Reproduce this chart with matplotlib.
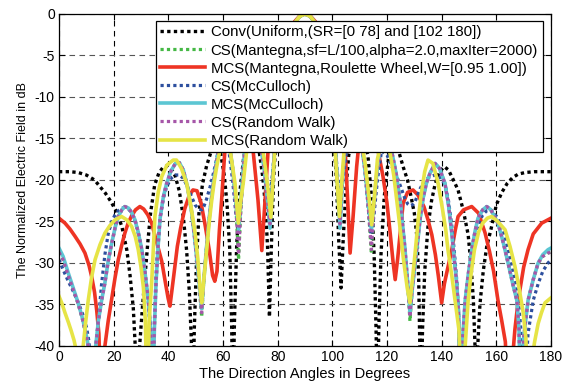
import matplotlib
matplotlib.use("Agg")
import matplotlib.pyplot as plt

plt.rcParams['font.family'] = ['Liberation Sans', 'DejaVu Sans']
plt.rcParams['axes.unicode_minus'] = False

# ---------------- data (degrees, dB) ----------------
conv_ang = [0, 4, 7, 10, 13, 15, 17, 19, 21, 23, 24.8, 26, 27.2, 28.2, 28.8, 29.5, 30.5, 31.5, 32.5,
            33.5, 35, 36.5, 38, 39.5, 41, 42.5, 44, 45.5, 46.7, 47.7, 48.5, 49, 49.5, 50.3, 51.2,
            52.5, 54, 56, 57.5, 59, 60.5, 61.5, 62.5, 63.2, 63.6, 64.2, 65, 66, 67.5, 70, 73, 74.5,
            75.5, 76.3, 77, 77.7, 78.5, 80, 82, 84, 86, 88, 90,
            92, 94, 96, 98, 100, 101.5, 102.3, 103.2, 104, 105, 106, 110, 113, 114.3, 115.3, 116,
            116.5, 117, 117.8, 119, 120.5, 122.5, 124.5, 126, 127.5, 128.8, 130, 131, 131.6, 132,
            132.4, 133, 133.8, 135, 136.3, 137.6, 139.2, 141, 142.5, 144, 146, 148, 149.7, 150.8,
            151.6, 152.2, 152.6, 153.2, 154, 155.2, 156.5, 158, 160, 162, 164, 166, 168, 170.5,
            174, 177, 180]
conv_db = [-19.0, -19.0, -19.1, -19.4, -20.0, -20.8, -21.6, -22.6, -23.8, -25.6, -28.4, -31.5, -35.5,
           -42, -48, -40, -35.5, -31.5, -27.5, -24, -20.6, -19.2, -18.5, -18.3, -18.6, -19.5, -21.3,
           -24.5, -28.5, -33.5, -40, -48, -38, -30, -24, -20.5, -18.3, -16.2, -15.5, -16.5, -19.5,
           -23, -28.5, -38, -48, -37, -28, -22, -17.5, -13, -16, -19.5, -23, -28, -36.5, -28, -20,
           -12, -7, -3.6, -1.3, -0.3, 0,
           -0.3, -1.3, -3.6, -7, -12, -20, -27, -33, -27, -21, -17, -13, -17, -22, -29, -38,
           -48, -38, -29, -22, -17.5, -15.5, -16.8, -18.5, -20, -22, -24, -27, -32, -40,
           -48, -38, -31, -25.6, -22.5, -20.5, -19, -18.4, -18.8, -19.8, -21.2, -23.8, -26.6, -30.5,
           -34.5, -40, -48, -40, -35, -31, -28, -26, -23, -21.5, -20.4, -19.7, -19.3, -19.1,
           -19.0, -19.0, -19.0]

mcs_man_ang = [0, 2.2, 4, 5.9, 7.7, 9.5, 11, 12, 13, 13.8, 14.6, 15.5, 16.2, 16.8, 18, 19.3, 20.5,
               21.7, 23, 24.1, 25.3, 26.6, 28, 29.6, 31, 32.5, 33.9, 35.5, 37.6, 39, 39.9, 40.6,
               42, 43.3, 44.5, 46, 47.5, 49, 50.5, 52, 53.5, 55, 56.2, 57, 57.8, 58.7, 59.5, 60.7,
               62.5, 65.5, 68.5, 71, 72.8, 74.2, 75.4, 76.5, 78, 80, 83, 86, 88, 90,
               92, 94, 97, 100, 102.5, 104.7, 105.6, 106.5, 107.6, 108.9, 110.5, 113.5, 116.7,
               118.5, 120, 121.2, 122.2, 123, 123.9, 124.8, 125.9, 127.5, 129.5, 131.3, 133.5,
               135, 136.4, 137.7, 138.8, 140, 141, 142.3, 143.7, 145, 146, 148, 151, 153.5, 155.9,
               157.5, 159, 160.6, 162, 163.3, 164.5, 165.8, 166.8, 168, 170, 171.6, 173.5, 176.6, 180]
mcs_man_db = [-24.6, -25.2, -25.9, -26.8, -27.7, -28.8, -30.3, -31.7, -33.5, -35.7, -38.5, -48, -42,
              -40, -37, -34.3, -31.8, -29.6, -27.8, -26.4, -25.2, -24.3, -23.6, -23.2, -23.5, -24.2,
              -25.2, -27.2, -29.8, -32.5, -34.2, -35.2, -31.5, -28, -25.8, -23.5, -22, -21.2, -21.3,
              -22.8, -25.5, -28.5, -31.5, -32.2, -31, -26, -22.4, -16.4, -12, -9, -11, -16.4, -22.4,
              -28.5, -22.4, -16.4, -11, -7, -3.5, -1.0, -0.25, 0,
              -0.25, -1.0, -3.5, -8, -12, -16.4, -22.4, -28.8, -24.4, -18.4, -13, -10, -16.4,
              -19.5, -22.8, -26.5, -29.8, -32, -29.5, -26.5, -22.8, -21.5, -21.2, -21.8, -23.2,
              -24.8, -26.6, -29, -31.6, -34.8, -32.5, -30.5, -28.4, -26, -24.4, -23.6, -23.2, -24,
              -26.4, -28.6, -31, -34.5, -37, -39.5, -48, -42, -38, -34.5, -30.5, -28.4, -26.5,
              -25.2, -24.6]

# common angle grid for the McCulloch / Random Walk CS curves
cs_ang = [0, 1.5, 3.4, 5.2, 7, 8.7, 10.1, 11, 12.2, 13.3, 14.4, 15.6, 16.8, 18, 19.3, 20.5, 21.7, 23,
          24.1, 25.5, 26.7, 27.8, 29, 30.3, 31.5, 32.7, 33.5, 34.2, 34.9, 35.5, 36.3, 37, 38.2, 39.4,
          41, 42.6, 44, 45.5, 47, 48.5, 49.8, 51, 52.2, 53, 54, 55.3, 56.5, 58, 60, 62, 63.5, 64.7,
          65.7, 66.6, 67.8, 70, 73, 75, 76.3, 77.2, 78.2, 79.5, 81.5, 84, 86, 88, 90,
          92, 94, 96, 98.5, 100.5, 101.8, 102.8, 103.7, 105, 107, 110, 112, 113.2, 114.3, 115.3,
          116.5, 118, 120, 122, 123.5, 125, 126.5, 127.6, 128.4, 129.3, 130.3, 131.2, 132.2, 133.2,
          134.5, 135.7, 137.6, 139.2, 141.2, 142.5, 143.7, 144.6, 145.5, 146.2, 146.8, 147.5, 148.6,
          149.8, 151, 152.2, 153.3, 155, 156.5, 158, 160.6, 162.5, 164.3, 166, 167.5, 168.3, 169,
          170, 171.6, 173.5, 175.3, 177, 178.9, 180]
mcs_mcc_db = [-28.2, -29.2, -31.2, -33.0, -34.8, -36.8, -38.9, -40.5, -48, -40.5, -37, -34.5, -32.4,
              -29.8, -27.6, -25.8, -24.4, -23.6, -23.2, -23.4, -24.0, -24.8, -26.3, -28.4, -31.2,
              -34.5, -38, -48, -38, -32.4, -27.8, -24.6, -22, -20.4, -18.9, -18, -17.9, -18.8, -20.8,
              -23.8, -27.5, -31.5, -35.5, -32, -28, -23.5, -20.3, -17, -14, -15, -18.5, -22.5, -26,
              -22, -17, -12.5, -14.5, -18.5, -22.5, -25.8, -20, -13, -8, -3.6, -1.2, -0.3, 0,
              -0.3, -1.2, -3.6, -8, -13, -20, -25.8, -20, -14.5, -12.5, -14, -19, -23, -26, -22.5,
              -18.5, -15, -14.5, -17, -19.5, -23, -28, -32.5, -36, -33, -30, -27.5, -24.5, -22.2,
              -20.3, -19.2, -18, -18.6, -20.4, -23, -26.4, -29.5, -32.4, -36, -48, -40, -34.5,
              -31.2, -28.4, -26.2, -24.6, -23.6, -23.2, -23.6, -25.2, -27.5, -30, -32.5, -34.5, -38,
              -48, -39, -34.5, -32, -30, -29, -28.4, -28.2]
cs_rw_db = [-28.7, -29.6, -31.5, -33.2, -34.9, -36.9, -39.0, -40.5, -48, -40.5, -37, -34.5, -32.4,
            -29.8, -27.6, -25.8, -24.4, -23.6, -23.2, -23.4, -24.0, -24.8, -26.3, -28.4, -31.2,
            -34.5, -38, -48, -38, -32.4, -27.8, -24.6, -22, -20.4, -18.9, -18, -17.9, -18.8, -20.8,
            -23.8, -27.5, -31.5, -36.0, -32, -28, -23.5, -20.3, -17, -14, -15, -18.5, -23, -29,
            -23, -17, -12.5, -14.5, -18.5, -22.5, -25.3, -20, -13, -8, -3.6, -1.2, -0.3, 0,
            -0.3, -1.2, -3.6, -8, -13, -20, -25.3, -20, -14.5, -12.5, -14, -19, -23.5, -28.4, -23,
            -18.5, -15, -14.5, -17, -19.5, -23, -28, -32.5, -36.5, -33, -30, -27.5, -24.5, -22.2,
            -20.3, -19.2, -18, -18.6, -20.4, -23, -26.4, -29.5, -32.4, -36, -48, -40, -34.5,
            -31.2, -28.4, -26.2, -24.6, -23.6, -23.2, -23.6, -25.2, -27.5, -30, -32.5, -34.5, -38,
            -48, -39, -34.5, -32, -30, -29.2, -28.8, -28.7]
cs_man_db = [-28.7, -29.6, -31.5, -33.2, -34.9, -36.9, -39.0, -40.5, -48, -40.5, -37, -34.5, -32.4,
             -29.8, -27.6, -25.8, -24.4, -23.6, -23.2, -23.4, -24.0, -24.8, -26.3, -28.4, -31.2,
             -34.5, -38, -48, -38, -32.4, -27.8, -24.6, -22, -20.4, -18.9, -18, -17.9, -18.8, -20.8,
             -23.8, -27.5, -31.5, -36.5, -32, -28, -23.5, -20.3, -17, -14, -15, -18.5, -23, -29.6,
             -23, -17, -12.5, -14.5, -18.5, -22.5, -25.3, -20, -13, -8, -3.6, -1.2, -0.3, 0,
             -0.3, -1.2, -3.6, -8, -13, -20, -25.3, -20, -14.5, -12.5, -14, -19, -23.5, -28.9, -23,
             -18.5, -15, -14.5, -17, -19.5, -23, -28, -32.5, -37, -33, -30, -27.5, -24.5, -22.2,
             -20.3, -19.2, -18, -18.6, -20.4, -23, -26.4, -29.5, -32.4, -36, -48, -40, -34.5,
             -31.2, -28.4, -26.2, -24.6, -23.6, -23.2, -23.6, -25.2, -27.5, -30, -32.5, -34.5, -38,
             -48, -39, -34.5, -32, -30, -29.2, -28.8, -28.7]
cs_mcc_db = [-29.6, -30.8, -32.2, -33.4, -34.7, -36.2, -37.8, -39.5, -48, -41, -37, -32.5, -29,
             -26.5, -25, -24.2, -23.7, -23.4, -23.3, -23.5, -24.1, -24.9, -26.4, -28.6, -31.4,
             -34.8, -38.5, -48, -37, -31.5, -27, -24.5, -22.2, -20.8, -19.8, -19.4, -19.4, -19.8,
             -20.8, -22, -23, -23.5, -23.6, -23.2, -22.3, -20.8, -19.2, -17, -14.5, -16, -20, -24,
             -26, -23, -18, -13, -14.5, -17.5, -20.5, -22, -19, -13, -8, -3.6, -1.2, -0.3, 0,
             -0.3, -1.2, -3.6, -8, -13, -19, -22, -20.5, -17, -13.5, -14, -19, -23.5, -27, -24,
             -20, -16.5, -17, -18.5, -19.5, -20.8, -22.2, -22.9, -23.1, -23, -22.6, -21.8, -21,
             -20.4, -19.9, -19.6, -19.4, -19.6, -20.5, -22.5, -25.5, -28.5, -32, -36, -48, -41,
             -36.5, -32.5, -29.5, -27, -25.4, -24.2, -23.7, -23.6, -24.6, -26.3, -28.5, -31, -33.5,
             -35.5, -38, -48, -38.5, -34.5, -32.5, -31, -30, -29.6]

mcs_rw_ang = [0, 1, 2.2, 3.5, 4.5, 5.5, 6.3, 7.5, 8.7, 9.8, 10.7, 11.9, 13.2, 15, 16.8, 18.6, 20.5,
              22.9, 24.8, 26.6, 27.9, 29, 30, 30.9, 31.6, 32.3, 33, 33.9, 34.5, 35.1, 36.3, 37.6,
              39.5, 41.8, 43, 44.8, 46.7, 48.3, 49.8, 50.8, 51.6, 52.2, 53, 54, 55, 55.9, 56.8,
              57.7, 58.9, 60.5, 62.6, 63.5, 64.4, 65.6, 66.5, 67.4, 68.7, 71, 74, 75.5, 76.6, 77.5,
              78.3, 79.5, 81.5, 84, 86, 88, 90,
              92, 94, 96, 98.5, 100.5, 101.7, 102.6, 103.5, 104.5, 107, 110, 112, 113.4, 114.4,
              115.4, 116.5, 118.5, 120.5, 122.5, 124.5, 126, 127.4, 128.4, 129.3, 130.4, 131.5,
              132.6, 133.8, 135, 136.8, 138.7, 140.3, 141.5, 142.3, 143.7, 144.9, 146.3, 147.7,
              148.6, 149.7, 150.8, 152, 153.5, 155, 156.7, 158.3, 160.5, 163.2, 165, 166.8, 168.3,
              169.8, 170.8, 171.8, 172.8, 174, 175.3, 176.5, 177.8, 180]
mcs_rw_db = [-34, -34.8, -36, -37.2, -38.2, -39.3, -40.5, -48, -40.5, -37, -34.5, -31.8, -29.6,
             -27.8, -26.4, -25.5, -24.8, -24.4, -24.8, -25.6, -26.8, -28.4, -30.5, -33, -37, -48,
             -37, -32.4, -28.5, -24.4, -21.5, -19.6, -18.2, -17.6, -17.6, -18.6, -20.4, -23.2,
             -26.4, -29.5, -33, -34.8, -32, -28.4, -25, -22.4, -20.2, -18.4, -16.4, -14.5, -16.4,
             -18.4, -20.4, -25.2, -22.5, -20.4, -16.4, -13, -15, -18.5, -21.5, -24.5, -20, -13.5,
             -8, -3.6, -1.2, -0.3, 0,
             -0.3, -1.2, -3.6, -8, -13.5, -20, -24.4, -20, -15.5, -12.5, -14, -18, -22, -25.4,
             -22, -17.5, -14.5, -15.5, -19.5, -25, -29.5, -33, -34.8, -32, -28.4, -24.5, -21.5,
             -19, -17.6, -18, -20.4, -23.5, -26, -28.4, -31.5, -34.5, -38, -48, -40, -34.5, -31.2,
             -28.4, -26.3, -25.2, -24.6, -24.4, -25, -26, -28, -30.4, -33, -35.9, -39, -48, -42,
             -39.5, -37.3, -36, -34.8, -34.2]

labels = ['Conv(Uniform,(SR=[0 78] and [102 180])',
          'CS(Mantegna,sf=L/100,alpha=2.0,maxIter=2000)',
          'MCS(Mantegna,Roulette Wheel,W=[0.95 1.00])',
          'CS(McCulloch)',
          'MCS(McCulloch)',
          'CS(Random Walk)',
          'MCS(Random Walk)']

x_ticks = [0, 20, 40, 60, 80, 100, 120, 140, 160, 180]
y_ticks = [0, -5, -10, -15, -20, -25, -30, -35, -40]

# ---------------- figure ----------------
fig = plt.figure(figsize=(5.66, 3.81), dpi=100)
ax = fig.add_axes([0.1042, 0.0919, 0.8693, 0.8714])

dot = (0, (1, 1))
ax.plot(conv_ang, conv_db, color='black', lw=2.4, ls=dot, label=labels[0])
ax.plot(cs_ang, cs_man_db, color='#45b845', lw=2.3, ls=dot, label=labels[1])
ax.plot(mcs_man_ang, mcs_man_db, color='#ee3424', lw=2.6, ls='-', label=labels[2])
ax.plot(cs_ang, cs_mcc_db, color='#2d4f9e', lw=2.3, ls=dot, label=labels[3])
ax.plot(cs_ang, mcs_mcc_db, color='#5cc6d3', lw=2.6, ls='-', label=labels[4])
ax.plot(cs_ang, cs_rw_db, color='#a656a8', lw=2.3, ls=dot, label=labels[5])
ax.plot(mcs_rw_ang, mcs_rw_db, color='#e6e446', lw=2.6, ls='-', label=labels[6])

ax.set_xlim(0, 180)
ax.set_ylim(-40, 0)
ax.set_xticks(x_ticks)
ax.set_yticks(y_ticks)
ax.tick_params(direction='in', top=True, right=True, length=4, width=0.8, labelsize=10, pad=3)
ax.xaxis.grid(True, linestyle=(0, (5, 4)), color='black', linewidth=0.8)
ax.yaxis.grid(True, linestyle=(0, (5, 4)), color='#555555', linewidth=0.8)
for s in ax.spines.values():
    s.set_linewidth(0.9)

ax.set_xlabel('The Direction Angles in Degrees', fontsize=10.5, labelpad=2)
ax.set_ylabel('The Normalized Electric Field in dB', fontsize=9, labelpad=4)

leg = ax.legend(loc='upper left', bbox_to_anchor=(0.197, 0.979), borderaxespad=0,
                fontsize=10.8, handlelength=3.0, handletextpad=0.35, labelspacing=0.27,
                borderpad=0.3, fancybox=False, framealpha=1, edgecolor='black')
leg.get_frame().set_linewidth(0.9)

fig.savefig('out.png', dpi=100, facecolor='white')
